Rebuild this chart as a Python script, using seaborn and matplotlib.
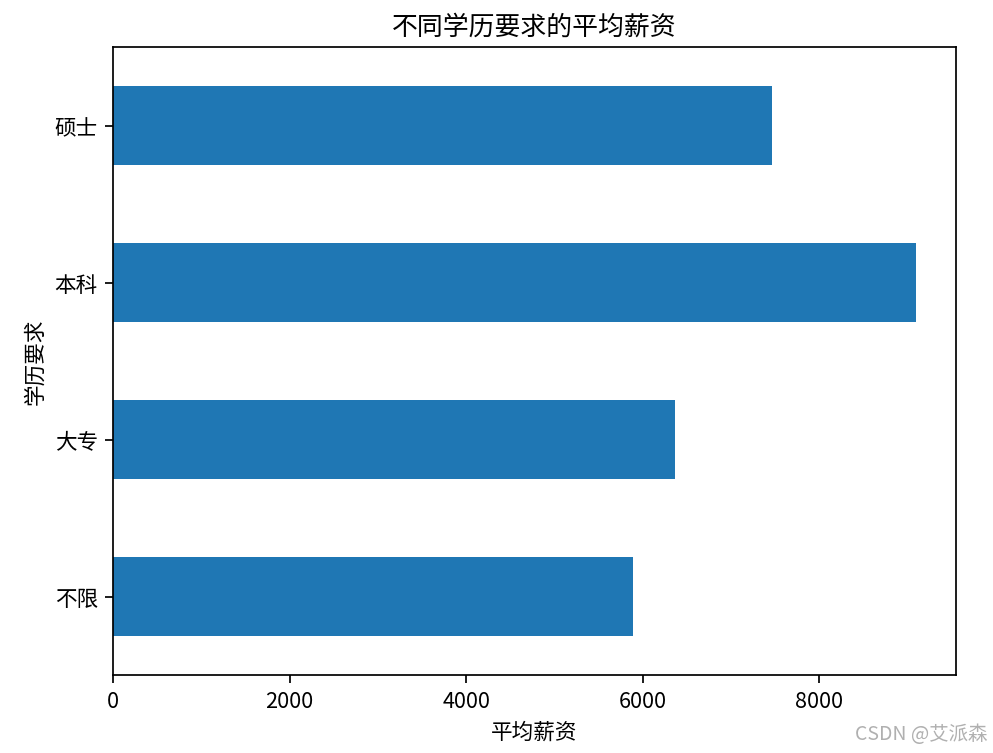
import matplotlib
matplotlib.use("Agg")
import matplotlib.pyplot as plt
import seaborn as sns
import pandas as pd

# 学历要求 / 平均薪资 (top to bottom as drawn)
education = ['硕士', '本科', '大专', '不限']
avg_salary = [7470, 9095, 6370, 5890]

plt.rcParams['font.family'] = ['Noto Sans CJK SC', 'DejaVu Sans']
plt.rcParams['axes.unicode_minus'] = False

df = pd.DataFrame({'学历要求': education, '平均薪资': avg_salary})

fig, ax = plt.subplots(figsize=(6.4, 4.855), dpi=155.3)
sns.barplot(data=df, x='平均薪资', y='学历要求', order=education, orient='h',
            color='#1f77b4', saturation=1, width=0.5, errorbar=None,
            linewidth=0, ax=ax)
ax.set_title('不同学历要求的平均薪资', fontsize=12)
ax.set_xlabel('平均薪资')
ax.set_ylabel('学历要求')
ax.set_xlim(0, max(avg_salary) * 1.05)
ax.set_ylim(3.5, -0.5)

fig.subplots_adjust(left=0.1137, right=0.9618, top=0.9363, bottom=0.1034)
fig.text(0.993, 0.012, 'CSDN @艾派森', color='#b0b0b0', ha='right', va='bottom', fontsize=9)
fig.savefig('out.png', dpi=155.3)
